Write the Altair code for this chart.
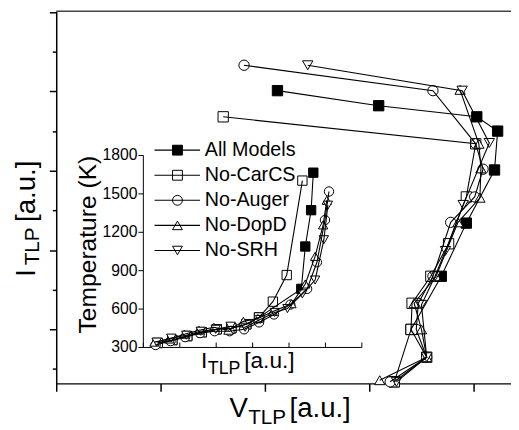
import altair as alt
import pandas as pd

FONT = "Liberation Sans"

series = ["All Models", "No-CarCS", "No-Auger", "No-DopD", "No-SRH"]
marker_shapes = ["square", "square", "circle", "triangle-up", "triangle-down"]
marker_fills = ["black", "white", "white", "white", "white"]

# ---- main plot: I_TLP (a.u.) vs V_TLP (a.u.) ----
v_all = [3.24, 3.40, 3.69, 3.93, 4.20, 4.23, 4.03, 3.09, 2.12]
i_all = [0.34, 1.00, 1.67, 2.34, 3.01, 3.50, 3.68, 3.82, 4.01]
v_carcs = [3.24, 3.55, 3.40, 3.41, 3.59, 3.76, 3.93, 4.02, 1.60]
i_carcs = [0.34, 0.65, 1.00, 1.33, 1.67, 2.08, 2.67, 3.34, 3.68]
v_auger = [3.20, 3.55, 3.45, 3.47, 3.61, 3.78, 4.01, 4.09, 4.02, 3.61, 1.80]
i_auger = [0.34, 0.65, 1.00, 1.33, 1.67, 2.35, 2.67, 3.02, 3.34, 4.01, 4.33]
v_dopd = [3.10, 3.55, 3.50, 3.43, 3.64, 3.85, 4.06, 4.07, 4.05, 3.87]
i_dopd = [0.36, 0.65, 1.00, 1.33, 1.67, 2.35, 2.66, 3.03, 3.34, 4.02]
v_srh = [3.26, 3.55, 3.50, 3.63, 3.73, 3.90, 4.15, 3.89, 2.41]
i_srh = [0.34, 0.65, 1.31, 1.67, 1.99, 2.57, 3.35, 4.01, 4.33]

# ---- inset: Temperature (K) vs I_TLP (a.u.) ----
x_all_in = [0.41, 0.81, 1.22, 1.62, 2.03, 2.43, 2.84, 3.19, 4.35, 4.46, 4.62, 4.68]
t_all_in = [331, 354, 385, 415, 438, 446, 477, 531, 754, 1085, 1369, 1662]
x_carcs_in = [0.41, 0.81, 1.22, 1.62, 2.03, 2.43, 2.84, 3.19, 3.57, 3.95, 4.38]
t_carcs_in = [331, 354, 385, 415, 438, 446, 477, 531, 654, 862, 1600]
x_auger_in = [0.35, 0.76, 1.16, 1.57, 1.97, 2.38, 2.78, 3.19, 3.60, 4.05, 4.51, 4.78, 5.00, 5.11]
t_auger_in = [315, 346, 377, 408, 423, 423, 438, 492, 554, 631, 754, 962, 1292, 1515]
x_dopd_in = [0.32, 0.73, 1.14, 1.54, 1.95, 2.35, 2.76, 3.16, 3.57, 4.08, 4.46, 4.73, 4.95, 5.05]
t_dopd_in = [338, 362, 400, 431, 454, 431, 500, 523, 577, 638, 792, 1008, 1254, 1446]
x_srh_in = [0.38, 0.78, 1.19, 1.59, 2.00, 2.41, 2.81, 3.22, 3.62, 3.97, 4.38, 4.73, 4.97, 5.08]
t_srh_in = [338, 369, 392, 423, 438, 462, 454, 515, 570, 600, 715, 823, 1138, 1408]

main_xy = [(v_all, i_all), (v_carcs, i_carcs), (v_auger, i_auger), (v_dopd, i_dopd), (v_srh, i_srh)]
inset_xy = [(x_all_in, t_all_in), (x_carcs_in, t_carcs_in), (x_auger_in, t_auger_in),
            (x_dopd_in, t_dopd_in), (x_srh_in, t_srh_in)]

rows = []
for s, (xs, ys) in zip(series, main_xy):
    for k, (a, b) in enumerate(zip(xs, ys)):
        rows.append({"series": s, "idx": k, "v": a, "i": b})
df_main = pd.DataFrame(rows)

rows = []
for s, (xs, ys) in zip(series, inset_xy):
    for k, (a, b) in enumerate(zip(xs, ys)):
        rows.append({"series": s, "idx": k, "ix": a, "T": b})
df_in = pd.DataFrame(rows)

# legend rows (inside inset, in inset data units)
leg_top, leg_step = 1838, 196
df_leg = pd.DataFrame({"series": series,
                       "T": [leg_top - leg_step * k for k in range(len(series))],
                       "x0": 0.32, "x1": 1.57, "xm": 0.95, "xt": 1.70})

shape_enc = alt.Shape("series:N", scale=alt.Scale(domain=series, range=marker_shapes), legend=None)
fill_enc = alt.Fill("series:N", scale=alt.Scale(domain=series, range=marker_fills), legend=None)

# main scales / axes
mx = alt.X("v:Q", scale=alt.Scale(domain=[0, 4.358], nice=False, zero=False),
           axis=alt.Axis(values=[0, 1, 2, 3, 4], labels=False, title=None, tickSize=8,
                         tickWidth=1.5, domainWidth=1.5, grid=False))
my = alt.Y("i:Q", scale=alt.Scale(domain=[0.32, 5.01], nice=False, zero=False),
           axis=alt.Axis(values=[0.5 * k for k in range(1, 11)], labels=False, title=None,
                         tickSize={"condition": {"test": "datum.value % 1 === 0", "value": 7}, "value": 4},
                         tickWidth=1.5, domainWidth=1.5, grid=False))

main_pts = alt.Chart(df_main).mark_point(filled=True, opacity=1, size=110, stroke="black",
                                         strokeWidth=1).encode(x=mx, y=my, shape=shape_enc, fill=fill_enc)
main_lines = alt.Chart(df_main).mark_line(color="black", strokeWidth=1.1).encode(
    x=mx, y=my, detail="series:N", order=alt.Order("idx:Q"))
top_rule = alt.Chart(pd.DataFrame({"a": [0]})).mark_rule(color="#444", strokeWidth=1.5).encode(
    x=alt.value(0), x2=alt.value(462), y=alt.value(0))


def label(txt, x, y, size, angle=0, align="left"):
    return alt.Chart(pd.DataFrame({"t": [txt]})).mark_text(
        text=txt, font=FONT, fontSize=size, angle=angle, align=align,
        baseline="alphabetic", color="black").encode(x=alt.value(x), y=alt.value(y))


titles = [
    label("I", -22, 270, 29, 270),
    label("TLP", -18, 258, 21, 270),
    label("[a.u.]", -22, 214, 28, 270),
    label("V", 176, 412, 28),
    label("TLP", 195, 419, 21),
    label("[a.u.]", 237, 412, 28),
    label("I", 147, 362, 23),
    label("TLP", 154, 368, 18),
    label("[a.u.]", 191, 362, 23),
    label("Temperature (K)", 40, 237, 25, 270, "center"),
]

main = alt.layer(main_pts, main_lines, top_rule, *titles)

# inset scales / axes
ix = alt.X("ix:Q", scale=alt.Scale(domain=[0, 6], range=[88, 310], nice=False, zero=False),
           axis=alt.Axis(orient="top", offset=-341, values=[0, 1, 2, 3, 4, 5, 6], labels=False,
                         title=None, tickSize=5, tickWidth=1, domainWidth=1, grid=False))
iy = alt.Y("T:Q", scale=alt.Scale(domain=[300, 1800], range=[341, 146], nice=False, zero=False),
           axis=alt.Axis(orient="left", offset=-88, values=list(range(300, 1801, 150)),
                         format="d",
                         labelExpr="datum.value % 300 === 0 ? datum.label : ''",
                         labelOverlap=False, labelFontSize=16, labelPadding=1,
                         tickSize={"condition": {"test": "datum.value % 300 === 0", "value": 5}, "value": 3},
                         tickWidth=1, domainWidth=1, title=None, grid=False))

in_pts = alt.Chart(df_in).mark_point(filled=True, opacity=1, size=90, stroke="black",
                                     strokeWidth=1).encode(x=ix, y=iy, shape=shape_enc, fill=fill_enc)
in_lines = alt.Chart(df_in).mark_line(color="black", strokeWidth=1.1).encode(
    x=ix, y=iy, detail="series:N", order=alt.Order("idx:Q"))
leg_pts = alt.Chart(df_leg).mark_point(filled=True, opacity=1, size=100, stroke="black",
                                       strokeWidth=1).encode(
    x=alt.X("xm:Q", scale=alt.Scale(domain=[0, 6], range=[88, 310], nice=False, zero=False)),
    y=alt.Y("T:Q"), shape=shape_enc, fill=fill_enc)
leg_rules = alt.Chart(df_leg).mark_rule(color="black", strokeWidth=1.1).encode(
    x="x0:Q", x2="x1:Q", y="T:Q")
leg_text = alt.Chart(df_leg).mark_text(align="left", baseline="middle", font=FONT, fontSize=20,
                                       color="black").encode(x="xt:Q", y="T:Q", text="series:N")

inset = alt.layer(in_pts, in_lines, leg_pts, leg_rules, leg_text)

chart = alt.layer(main, inset).resolve_scale(x="independent", y="independent").properties(
    width=462, height=378,
    autosize=alt.AutoSizeParams(type="none"),
    padding={"left": 49, "top": 0, "right": 0, "bottom": 44},
).configure_view(stroke=None).configure_axis(
    labelFont=FONT, labelColor="black", domainColor="black", tickColor="black")

chart.save("out.html", embed_options={"renderer": "svg", "actions": False})
